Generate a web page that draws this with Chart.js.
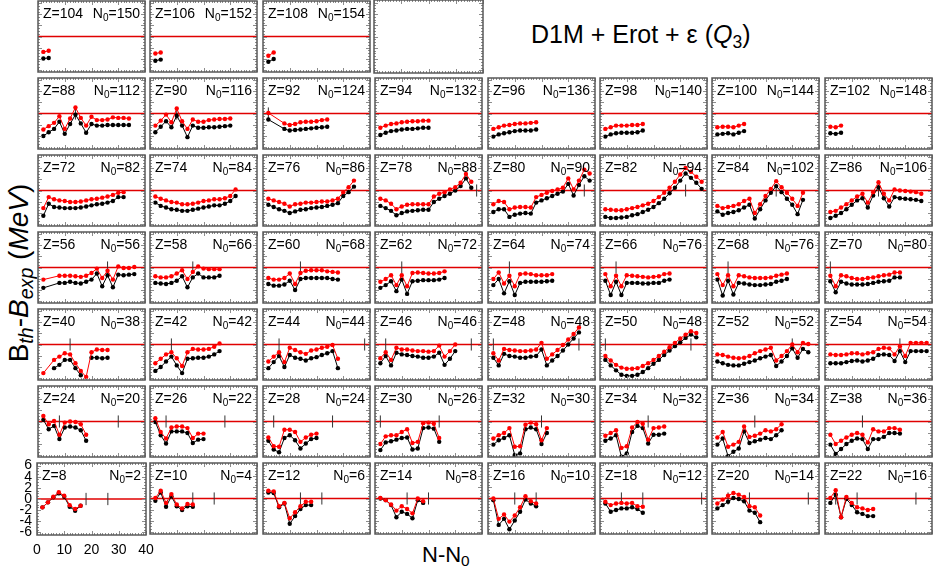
<!DOCTYPE html>
<html><head><meta charset="utf-8">
<script src="https://cdn.jsdelivr.net/npm/chart.js@4.4.1/dist/chart.umd.min.js"></script>
<style>
html,body{margin:0;padding:0;background:#fff;}
body{width:937px;height:572px;overflow:hidden;position:relative;font-family:"Liberation Sans",Arial,Helvetica,sans-serif;}
canvas{position:absolute;}
.t{position:absolute;color:#000;white-space:nowrap;line-height:1;}
.t sub{font-size:0.7em;vertical-align:-0.28em;line-height:0;}
</style></head><body>
<div class="t" style="left:531px;top:22px;font-size:25px;">D1M + Erot + ε (<i>Q</i><sub>3</sub>)</div>
<div class="t" style="left:422px;top:544px;font-size:22px;">N-N<sub>0</sub></div>
<div class="t" id="ytitle" style="left:19px;top:273px;font-size:28px;transform:translate(-50%,-50%) rotate(-90deg);">B<sub><i>th</i></sub>-<i>B</i><sub><i>exp</i></sub> (<i>MeV</i>)</div>
<script>
// ---------------- data ----------------
const MAGIC = [20, 28, 50, 82, 126];
const GRID = [
  [104, 106, 108, null],
  [88, 90, 92, 94, 96, 98, 100, 102],
  [72, 74, 76, 78, 80, 82, 84, 86],
  [56, 58, 60, 62, 64, 66, 68, 70],
  [40, 42, 44, 46, 48, 50, 52, 54],
  [24, 26, 28, 30, 32, 34, 36, 38],
  [8, 10, 12, 14, 16, 18, 20, 22]
];
const Z_LIST  = [8,10,12,14,16,18,20,22,24,26,28,30,32,34,36,38,40,42,44,46,48,50,52,54,56,58,60,62,64,66,68,70,72,74,76,78,80,82,84,86,88,90,92,94,96,98,100,102,104,106,108];
const N0_LIST = [2,4,6,8,10,12,14,16,20,22,24,26,30,32,34,36,38,42,44,46,48,48,52,54,56,66,68,72,74,76,76,80,82,84,86,88,90,94,102,106,112,116,124,132,136,140,144,148,150,152,154];
const X_TICKS = [0, 10, 20, 30, 40];
const Y_TICKS = [-6, -4, -2, 0, 2, 4, 6];

// x = N-N0, R = red series, B = black series
const X104=[2,4], R104=[-2.8,-2.6], B104=[-4.0,-3.9];
const X106=[2,4], R106=[-3.1,-2.9], B106=[-4.4,-4.2];
const X108=[2,4], R108=[-3.5,-2.9], B108=[-4.6,-4.1];

const X88=[2,4,6,8,10,12,14,16,18,20,22,24,26,28,30,32,34];
const R88=[-2.9,-2.3,-1.7,-0.5,-2.8,-0.9,1.1,-0.8,-2.2,-0.6,-1.2,-1.2,-1.1,-0.7,-0.8,-0.8,-0.9];
const B88=[-4.1,-3.4,-2.8,-1.5,-3.7,-1.9,-0.2,-1.8,-3.5,-1.9,-2.2,-2.2,-2.1,-2.1,-2.1,-2.1,-2.1];
const X90=[2,4,6,8,10,12,14,16,18,20,22,24,26,28,30];
const R90=[-2.2,-1.3,-0.2,-1.6,0.9,-1.4,-2.8,-1.1,-1.5,-1.5,-1.2,-1.1,-1.0,-1.0,-0.9];
const B90=[-3.4,-2.4,-1.4,-2.5,-0.4,-2.2,-4.3,-2.2,-2.6,-2.6,-2.5,-2.5,-2.4,-2.3,-2.2];
const X92=[2,8,10,12,14,16,18,20,22,24];
const R92=[0.1,-1.8,-2.1,-1.9,-1.6,-1.5,-1.5,-1.4,-1.2,-1.1];
const B92=[-1.1,-2.8,-3.1,-3.0,-2.9,-2.8,-2.7,-2.6,-2.5,-2.4];
const X94=[2,4,6,8,10,12,14,16,18,20];
const R94=[-2.6,-2.2,-1.9,-1.8,-1.6,-1.5,-1.4,-1.4,-1.3,-1.3];
const B94=[-3.9,-3.5,-3.2,-3.1,-2.9,-2.8,-2.8,-2.7,-2.6,-2.6];
const X96=[2,4,6,8,10,12,14,16,18];
const R96=[-2.8,-2.5,-2.2,-2.1,-1.9,-1.8,-1.8,-1.7,-1.6];
const B96=[-4.2,-3.8,-3.6,-3.4,-3.2,-3.1,-3.1,-3.1,-2.9];
const X98=[2,4,6,8,10,12,14,16];
const R98=[-2.8,-2.5,-2.2,-2.2,-2.2,-2.1,-2.1,-1.9];
const B98=[-4.2,-3.8,-3.6,-3.5,-3.5,-3.5,-3.4,-3.1];
const X100=[2,4,6,8,10,12];
const R100=[-2.5,-2.4,-2.4,-2.5,-2.2,-1.9];
const B100=[-3.8,-3.7,-3.6,-3.8,-3.5,-3.2];
const X102=[2,4,6], R102=[-2.4,-2.5,-2.2], B102=[-3.6,-3.7,-3.5];

const X72=[2,4,6,8,10,12,14,16,18,20,22,24,26,28,30,32];
const R72=[-3.2,-1.2,-1.6,-1.8,-1.9,-2.1,-2.1,-2.0,-1.8,-1.6,-1.5,-1.3,-1.1,-0.8,-0.4,-0.3];
const B72=[-4.6,-2.4,-3.0,-3.1,-3.2,-3.2,-3.2,-3.1,-2.9,-2.7,-2.5,-2.4,-2.2,-1.9,-1.2,-1.2];
const X74=[2,4,6,8,10,12,14,16,18,20,22,24,26,28,30,32];
const R74=[-1.1,-1.5,-1.8,-2.1,-2.2,-2.5,-2.5,-2.4,-2.2,-1.9,-1.8,-1.6,-1.6,-1.4,-1.0,0.2];
const B74=[-2.2,-2.8,-3.1,-3.4,-3.5,-3.7,-3.7,-3.5,-3.3,-3.1,-2.9,-2.7,-2.7,-2.4,-1.9,-1.0];
const X76=[2,4,6,8,10,12,14,16,18,20,22,24,26,28,30,32,34];
const R76=[-1.5,-1.8,-2.1,-2.4,-2.9,-2.5,-2.4,-2.2,-2.2,-2.1,-2.0,-2.0,-1.8,-1.5,-0.3,0.6,1.8];
const B76=[-2.6,-3.0,-3.4,-3.7,-4.1,-3.8,-3.5,-3.4,-3.2,-3.1,-3.0,-2.8,-2.6,-2.3,-1.0,-0.3,0.7];
const X78=[2,4,6,8,10,12,14,16,18,20,22,24,26,28,30,32,34,36];
const R78=[-1.5,-1.8,-2.4,-3.4,-2.9,-2.6,-2.5,-2.5,-2.5,-2.5,-1.1,-0.6,-0.3,0.2,0.6,1.4,3.0,1.6];
const B78=[-2.8,-3.2,-3.7,-4.5,-4.1,-3.8,-3.7,-3.6,-3.5,-3.5,-2.1,-1.5,-1.0,-0.6,0.0,0.8,2.2,0.5];
const X80=[2,4,6,8,10,12,14,16,18,20,22,24,26,28,30,32,34,36,38];
const R80=[-2.5,-1.9,-2.1,-3.4,-3.1,-3.0,-3.0,-3.1,-1.2,-0.8,-0.4,-0.1,0.2,0.5,2.2,0.2,1.8,3.8,3.1];
const B80=[-3.9,-3.4,-3.4,-4.8,-4.4,-4.2,-4.1,-4.2,-2.2,-1.8,-1.4,-1.0,-0.6,-0.2,1.2,-0.9,1.0,2.6,1.8];
const X82=[2,4,6,8,10,12,14,16,18,20,22,24,26,28,30,32,34,36,38];
const R82=[-3.4,-3.5,-3.6,-3.6,-3.4,-3.2,-3.0,-2.7,-2.4,-1.9,-1.2,-0.4,0.5,1.6,2.9,4.1,3.4,2.5,1.6];
const B82=[-4.8,-5.0,-5.0,-4.9,-4.8,-4.5,-4.3,-3.9,-3.5,-3.0,-2.3,-1.5,-0.5,0.5,1.8,3.1,2.3,1.4,0.3];
const X84=[2,4,6,8,10,12,14,16,18,20,22,24,26,28,30,32,34];
const R84=[-2.8,-3.2,-3.0,-2.8,-2.5,-1.9,-1.5,-4.1,-2.5,-1.0,0.3,1.7,0.6,-0.4,-1.5,-2.8,-0.4];
const B84=[-3.8,-4.4,-4.1,-3.9,-3.6,-3.1,-2.6,-5.1,-3.4,-1.8,-0.4,0.8,-0.3,-1.5,-2.6,-4.3,-1.7];
const X86=[2,4,6,8,10,12,14,16,18,20,22,24,26,28,30,32,34,36];
const R86=[-3.9,-3.7,-3.1,-2.5,-1.8,-1.1,-0.6,-2.2,-0.3,1.5,-0.6,-1.8,0.2,0.0,-0.1,-0.2,-0.3,-0.6];
const B86=[-5.0,-4.6,-4.1,-3.4,-2.6,-1.8,-1.4,-3.1,-0.9,0.6,-1.4,-2.9,-1.2,-1.4,-1.5,-1.6,-1.7,-1.9];

const X56=[2,8,10,12,14,16,18,20,22,24,26,28,30,32,34,36];
const R56=[-2.2,-1.5,-1.5,-1.5,-1.6,-1.7,-1.5,-1.0,-0.2,-1.9,-0.6,-2.2,0.2,-0.1,-0.1,0.1];
const B56=[-3.7,-2.8,-2.8,-2.6,-2.8,-2.9,-2.6,-2.2,-1.1,-3.4,-1.4,-3.6,-1.3,-1.4,-1.3,-1.2];
const X58=[2,4,6,8,10,12,14,16,18,20,22,24,26];
const R58=[-1.6,-1.8,-1.8,-1.6,-1.1,-0.5,-2.1,-0.8,0.2,-0.2,-0.3,-0.3,-0.3];
const B58=[-2.8,-2.9,-3.0,-2.8,-2.4,-1.6,-3.6,-1.8,-1.1,-1.8,-1.8,-1.8,-1.5];
const X60=[2,4,6,8,10,12,14,16,18,20,22,24,26,28];
const R60=[-1.9,-2.2,-2.2,-1.9,-1.1,-3.0,-1.0,-0.6,-0.5,-0.5,-0.5,-0.7,-0.8,-0.9];
const B60=[-3.0,-3.3,-3.3,-3.1,-2.4,-4.1,-2.1,-1.9,-1.9,-1.9,-1.9,-1.9,-2.1,-2.2];
const X62=[2,4,6,8,10,12,14,16,18,20,22,24,26];
const R62=[-2.6,-2.1,-1.4,-3.2,-1.4,-3.4,-1.0,-0.9,-1.0,-1.1,-1.1,-1.0,-0.7];
const B62=[-3.7,-3.2,-2.5,-4.3,-2.2,-4.8,-2.5,-2.4,-2.3,-2.3,-2.3,-2.2,-1.9];
const X64=[2,4,6,8,10,12,14,16,18,20,22,24];
const R64=[-2.1,-0.9,-2.9,-1.5,-3.4,-1.2,-1.1,-1.2,-1.4,-1.4,-1.4,-1.2];
const B64=[-3.2,-2.1,-4.7,-2.5,-5.0,-2.8,-2.6,-2.6,-2.6,-2.6,-2.5,-2.4];
const X66=[2,4,6,8,10,12,14,16,18,20,22,24,26];
const R66=[-1.2,-3.4,-1.5,-3.4,-1.4,-1.5,-1.6,-1.7,-1.8,-1.7,-1.6,-1.2,-1.1];
const B66=[-2.4,-5.0,-2.6,-5.0,-2.8,-2.8,-2.8,-2.9,-2.9,-2.8,-2.8,-2.4,-2.2];
const X68=[2,4,6,8,10,12,14,16,18,20,22,24,26,28];
const R68=[-1.2,-3.2,-1.4,-3.4,-1.4,-1.6,-1.8,-1.9,-1.9,-1.9,-1.8,-1.5,-1.3,-1.1];
const B68=[-2.2,-5.1,-2.4,-4.9,-2.8,-2.9,-3.1,-3.2,-3.2,-3.1,-3.0,-2.6,-2.4,-2.1];
const X70=[2,4,6,8,10,12,14,16,18,20,22,24,26,28];
const R70=[-1.5,-3.4,-1.4,-1.6,-1.9,-2.1,-2.1,-1.9,-1.8,-1.6,-1.4,-1.3,-0.9,-0.9];
const B70=[-2.5,-4.5,-2.6,-2.9,-3.1,-3.1,-3.1,-3.0,-2.8,-2.6,-2.5,-2.4,-1.8,-1.8];

const X40=[2,6,8,10,12,14,16,18,20,22,24,26];
const R40=[-5.2,-2.8,-2.2,-1.6,-1.8,-3.4,-4.8,-5.9,-1.4,-0.9,-1.0,-1.0];
const XB40=[6,8,10,12,14,16,18,20,22,24,26];
const B40=[-4.3,-3.7,-2.8,-2.8,-4.3,-5.6,null,-2.4,-2.4,-2.5,-2.4];
const X42=[2,4,6,8,10,12,14,16,18,20,22,24,26];
const R42=[-3.4,-2.6,-1.8,-1.4,-2.5,-3.9,-1.4,-0.8,-0.9,-0.9,-0.8,-0.4,0.2];
const B42=[-4.8,-4.1,-3.1,-2.2,-3.8,-5.2,-2.6,-2.5,-2.4,-2.4,-2.2,-1.8,-1.2];
const X44=[2,4,6,8,10,12,14,16,18,20,22,24,26,28];
const R44=[-3.1,-2.2,-1.4,-3.2,-0.6,-1.0,-1.4,-1.7,-1.1,-0.9,-0.6,-0.4,-0.1,-2.6];
const B44=[-4.3,-3.2,-2.1,-4.1,-1.9,-2.4,-2.6,-2.9,-2.5,-2.3,-1.9,-1.6,-1.2,-4.3];
const X46=[2,4,6,8,10,12,14,16,18,20,22,24,26,28,30];
const R46=[-2.5,-1.4,-2.8,-0.6,-0.9,-0.9,-1.1,-1.2,-1.2,-1.3,-1.2,-0.2,-2.2,-1.2,0.0];
const B46=[-3.4,-2.1,-3.8,-1.5,-1.8,-1.9,-2.1,-2.2,-2.4,-2.4,-2.2,-1.5,-3.7,-2.6,-1.2];
const X48=[2,4,6,8,10,12,14,16,18,20,22,24,26,28,30,32,34];
const R48=[-1.6,-2.9,-0.8,-1.0,-1.1,-1.2,-1.2,-1.1,-0.9,0.3,-2.6,-1.8,-1.0,-0.1,0.9,1.9,3.1];
const B48=[-2.4,-3.8,-1.7,-2.1,-2.2,-2.4,-2.4,-2.2,-2.1,-0.9,-3.8,-2.9,-2.1,-1.1,0.0,1.1,2.2];
const X50=[2,4,6,8,10,12,14,16,18,20,22,24,26,28,30,32,34,36];
const R50=[-2.1,-2.9,-3.7,-4.2,-4.4,-4.4,-4.3,-3.9,-3.4,-2.8,-2.1,-1.3,-0.5,0.3,1.1,1.8,2.4,2.1];
const B50=[-2.8,-3.8,-4.7,-5.5,-5.7,-5.7,-5.5,-5.0,-4.3,-3.5,-2.8,-1.9,-1.1,-0.3,0.4,1.2,1.8,1.3];
const X52=[2,4,6,8,10,12,14,16,18,20,22,24,26,28,30,32,34,36];
const R52=[-1.8,-1.9,-2.2,-2.4,-2.5,-2.4,-2.1,-1.6,-1.2,-0.9,-0.6,-2.9,-2.1,-1.2,0.0,-1.4,0.3,0.1];
const B52=[-3.1,-3.4,-3.7,-3.8,-3.8,-3.5,-3.2,-2.9,-2.5,-2.2,-1.9,-3.9,-3.1,-2.1,-0.7,-2.4,-0.8,-1.4];
const X54=[2,4,6,8,10,12,14,16,18,20,22,24,26,28,30,32,34,36,38];
const R54=[-1.8,-1.9,-1.9,-1.8,-1.6,-1.6,-1.8,-1.6,-1.4,-0.8,-0.6,-0.7,-1.8,-0.3,-2.1,0.3,0.3,0.3,0.3];
const B54=[-3.4,-3.4,-3.4,-3.2,-3.0,-2.9,-3.1,-2.9,-2.6,-1.9,-1.8,-1.9,-3.0,-1.2,-3.2,-1.2,-1.2,-1.2,-1.2];

const X24=[2,4,6,8,10,12,14,16,18];
const R24=[1.0,-0.5,0.1,-2.4,-0.2,0.0,-0.1,-0.5,-2.4];
const B24=[0.3,-1.4,-0.8,-3.2,-1.1,-0.9,-1.1,-1.6,-3.5];
const X26=[2,4,6,8,10,12,14,16,18,20];
const R26=[0.6,-1.9,-3.1,-1.1,-0.9,-0.9,-1.2,-3.0,-2.2,-2.2];
const B26=[-0.1,-2.5,-4.0,-1.8,-1.8,-1.8,-2.1,-3.9,-3.3,-3.2];
const X28=[2,4,6,8,10,12,14,16,18,20];
const R28=[-2.9,-4.5,-4.6,-1.5,-1.5,-1.9,-3.7,-2.9,-2.4,-2.2];
const B28=[-3.5,-5.1,-5.6,-3.0,-2.5,-3.4,-4.9,-4.0,-3.2,-3.0];
const X30=[2,4,6,8,10,12,14,16,18,20,22,24];
const R30=[-4.1,-2.7,-2.5,-2.5,-1.9,-1.4,-3.9,-3.7,-0.3,-0.2,-0.4,-3.0];
const B30=[-5.2,-3.8,-3.6,-3.3,-3.0,-2.9,-5.1,-4.9,-1.2,-1.1,-1.3,-3.7];
const X32=[2,4,6,8,10,12,14,16,18,20,22];
const R32=[-3.1,-2.5,-2.1,-1.2,-4.6,-4.5,-0.6,-0.2,-0.5,-3.4,-1.2];
const B32=[-4.2,-3.4,-3.0,-2.5,-6.1,-5.8,-1.4,-1.1,-1.4,-4.1,-2.1];
const X34=[2,4,6,8,10,12,14,16,18,20,22,24];
const R34=[-2.6,-2.1,-1.6,-4.8,-4.5,-1.1,-0.1,-0.4,-3.3,-1.2,-1.1,-0.9];
const B34=[-3.5,-3.1,-2.5,-6.4,-5.8,-1.9,-0.8,-1.2,-4.0,-2.4,-2.4,-2.2];
const X36=[2,4,6,8,10,12,14,16,18,20,22,24,26];
const R36=[-2.9,-1.9,-4.6,-4.2,-3.7,-0.9,-2.8,-2.6,-2.2,-1.6,-1.8,-1.4,-0.5];
const B36=[-4.2,-3.1,-6.3,-5.5,-4.9,-1.8,-3.9,-3.6,-3.3,-3.0,-3.2,-2.5,-1.6];
const X38=[2,4,6,8,10,12,14,16,18,20,22,24,26,28];
const R38=[-2.4,-4.1,-3.5,-2.9,-2.4,-2.1,-2.4,-3.8,-1.4,-1.8,-1.8,-1.2,-1.2,-1.5];
const B38=[-4.2,-5.9,-5.0,-4.1,-3.5,-3.1,-3.2,-5.0,-3.2,-3.2,-2.8,-2.1,-2.1,-2.2];

const X8=[2,4,6,8,10,12,14,16];
const R8=[-1.5,-0.6,0.4,1.2,0.6,-1.1,-1.8,-1.2];
const B8=[-1.5,-0.6,0.3,1.0,0.4,-1.4,-2.1,-1.2];
const X10=[2,4,6,8,10,12,14,16];
const R10=[0.1,1.4,-0.8,0.8,-1.1,-1.8,-1.0,-1.1];
const B10=[-0.4,1.1,-1.5,0.4,-1.4,-2.1,-1.4,-1.5];
const X12=[2,4,6,8,10,12,14,16,18];
const R12=[1.4,1.3,-1.4,-0.8,-3.6,-2.5,-1.4,-0.6,-0.6];
const B12=[1.1,1.0,-1.6,-0.9,-4.6,-3.2,-1.9,-1.2,-1.2];
const X14=[2,4,6,8,10,12,14,16,18];
const R14=[0.1,-0.3,-1.1,-2.2,-1.4,-1.9,-2.7,0.0,-0.5];
const B14=[0.0,-0.3,-1.2,-3.4,-2.4,-2.8,-3.6,-0.3,-0.8];
const X16=[2,4,6,8,10,12,14,16,18];
const R16=[0.0,-3.7,-2.9,-4.2,-3.1,-1.6,0.4,-0.5,-0.9];
const B16=[-0.3,-4.8,-3.7,-5.6,-4.0,-2.4,-0.2,-0.9,-1.4];
const X18=[2,4,6,8,10,12,14,16];
const R18=[-0.6,-1.2,-0.9,-0.8,-0.9,-0.8,-1.4,-1.5];
const B18=[-0.9,-2.4,-2.1,-1.8,-1.8,-1.6,-1.9,-2.6];
const X20=[2,4,6,8,10,12,14,16,18];
const R20=[-0.9,-0.2,0.5,1.0,0.7,0.3,-1.4,-1.6,-3.1];
const B20=[-1.8,-1.2,-0.6,0.1,-0.1,-0.5,-2.2,-2.6,-4.3];
const X22=[2,4,6,8,10,12,14,16,18];
const R22=[0.1,1.5,-3.4,0.3,-0.8,-1.6,-1.8,-2.1,-1.9];
const B22=[-0.8,0.7,-3.4,-0.1,-1.2,-2.5,-2.8,-3.2,-3.2];

// table: Z -> [x red, red, x black, black]
const SERIES = {
  8:[X8,R8,X8,B8],10:[X10,R10,X10,B10],12:[X12,R12,X12,B12],14:[X14,R14,X14,B14],
  16:[X16,R16,X16,B16],18:[X18,R18,X18,B18],20:[X20,R20,X20,B20],22:[X22,R22,X22,B22],
  24:[X24,R24,X24,B24],26:[X26,R26,X26,B26],28:[X28,R28,X28,B28],30:[X30,R30,X30,B30],
  32:[X32,R32,X32,B32],34:[X34,R34,X34,B34],36:[X36,R36,X36,B36],38:[X38,R38,X38,B38],
  40:[X40,R40,XB40,B40],42:[X42,R42,X42,B42],44:[X44,R44,X44,B44],46:[X46,R46,X46,B46],
  48:[X48,R48,X48,B48],50:[X50,R50,X50,B50],52:[X52,R52,X52,B52],54:[X54,R54,X54,B54],
  56:[X56,R56,X56,B56],58:[X58,R58,X58,B58],60:[X60,R60,X60,B60],62:[X62,R62,X62,B62],
  64:[X64,R64,X64,B64],66:[X66,R66,X66,B66],68:[X68,R68,X68,B68],70:[X70,R70,X70,B70],
  72:[X72,R72,X72,B72],74:[X74,R74,X74,B74],76:[X76,R76,X76,B76],78:[X78,R78,X78,B78],
  80:[X80,R80,X80,B80],82:[X82,R82,X82,B82],84:[X84,R84,X84,B84],86:[X86,R86,X86,B86],
  88:[X88,R88,X88,B88],90:[X90,R90,X90,B90],92:[X92,R92,X92,B92],94:[X94,R94,X94,B94],
  96:[X96,R96,X96,B96],98:[X98,R98,X98,B98],100:[X100,R100,X100,B100],102:[X102,R102,X102,B102],
  104:[X104,R104,X104,B104],106:[X106,R106,X106,B106],108:[X108,R108,X108,B108]
};

// ---------------- layout / style ----------------
const COLS = [37,149,262,374,487,599,711,824];
const ROWS = [0,77,154,231,308,385,462];
const PW = 109, PH = 73, PAD = 3;
const YMIN = -6.45, YMAX = 6.45;
const FONT = '"Liberation Sans", Arial, Helvetica, sans-serif';
const LBL = 14, SUB = 10;

const framePlugin = {
  id: 'frame',
  afterDraw(chart, args, o) {
    const ctx = chart.ctx, a = chart.chartArea;
    const xs = chart.scales.x, ys = chart.scales.y;
    ctx.save();
    ctx.beginPath();
    ctx.strokeStyle = '#8c8c8c'; ctx.lineWidth = 1;
    for (let v = 0; v <= 40; v++) {
      const px = Math.round(xs.getPixelForValue(v)) + 0.5, L = v % 10 === 0 ? 4 : 2;
      ctx.moveTo(px, a.top); ctx.lineTo(px, a.top + L);
      ctx.moveTo(px, a.bottom); ctx.lineTo(px, a.bottom - L);
    }
    for (let k = -12; k <= 12; k++) {
      const py = Math.round(ys.getPixelForValue(k / 2)) + 0.5, L = k % 4 === 0 ? 4 : 2;
      ctx.moveTo(a.left, py); ctx.lineTo(a.left + L, py);
      ctx.moveTo(a.right, py); ctx.lineTo(a.right - L, py);
    }
    ctx.stroke();
    ctx.strokeStyle = '#585858'; ctx.lineWidth = 1.5;
    ctx.strokeRect(a.left, a.top, a.right - a.left, a.bottom - a.top);
    if (o && o.z != null) {
      ctx.fillStyle = '#000'; ctx.textAlign = 'left'; ctx.textBaseline = 'alphabetic';
      const base = a.top + 17;
      ctx.font = LBL + 'px ' + FONT;
      ctx.fillText('Z=' + o.z, a.left + 5, base);
      const rest = '=' + o.n0;
      const wN = ctx.measureText('N').width, wR = ctx.measureText(rest).width;
      ctx.font = SUB + 'px ' + FONT;
      const w0 = ctx.measureText('0').width;
      const sx = a.right - 5 - (wN + w0 + wR);
      ctx.font = LBL + 'px ' + FONT; ctx.fillText('N', sx, base);
      ctx.font = SUB + 'px ' + FONT; ctx.fillText('0', sx + wN, base + 3);
      ctx.font = LBL + 'px ' + FONT; ctx.fillText(rest, sx + wN + w0, base);
    }
    ctx.restore();
  }
};

function pts(xa, ya) { return xa.map((x, i) => ({ x: x, y: ya[i] })); }

function makePanel(z, row, col) {
  const cv = document.createElement('canvas');
  document.body.appendChild(cv);
  const labelled = (row === 6 && col === 0);
  let left, top, w, h, padding;
  if (labelled) {
    left = 0; top = ROWS[row] - PAD; w = COLS[col] + PW + 12; h = PAD + PH + 24;
    padding = { top: PAD, left: 0, right: 12, bottom: 0 };
  } else {
    left = COLS[col] - PAD; top = ROWS[row] - PAD; w = PW + 2 * PAD; h = PH + 2 * PAD;
    padding = PAD;
  }
  cv.width = w; cv.height = h;
  cv.style.left = left + 'px'; cv.style.top = top + 'px';
  cv.style.width = w + 'px'; cv.style.height = h + 'px';

  const datasets = [];
  let frameOpts = { z: null, n0: null };
  if (z != null) {
    const n0 = N0_LIST[Z_LIST.indexOf(z)];
    frameOpts = { z: z, n0: n0 };
    const s = SERIES[z];
    const marks = [];
    MAGIC.forEach(m => {
      const d = m - n0;
      if (d >= 0 && d <= 40) { marks.push({ x: d, y: -1.1 }, { x: d, y: 1.1 }, { x: d, y: null }); }
    });
    datasets.push({ data: pts(s[0], s[1]), borderColor: '#ff0000', backgroundColor: '#ff0000',
      pointBackgroundColor: '#ff0000', pointBorderColor: '#ff0000', borderWidth: 1, pointRadius: 2.2, pointBorderWidth: 0, spanGaps: false });
    datasets.push({ data: pts(s[2], s[3]), borderColor: '#000', backgroundColor: '#000',
      pointBackgroundColor: '#000', pointBorderColor: '#000', borderWidth: 1, pointRadius: 2.2, pointBorderWidth: 0, spanGaps: false });
    datasets.push({ data: marks, borderColor: '#333', borderWidth: 1, pointRadius: 0, spanGaps: false });
    datasets.push({ data: [{ x: 0, y: 0 }, { x: 40, y: 0 }], borderColor: '#e00000', borderWidth: 1.5, pointRadius: 0 });
  }

  const tickFont = { size: 14, family: FONT };
  const xScale = labelled ? {
    type: 'linear', min: 0, max: 40, display: true,
    grid: { display: false, drawTicks: false }, border: { display: false },
    ticks: { font: tickFont, color: '#000', padding: 7, maxRotation: 0, autoSkip: false },
    afterBuildTicks: s => { s.ticks = X_TICKS.map(v => ({ value: v })); },
    afterFit: s => { s.height = 24; s.paddingLeft = 0; s.paddingRight = 0; }
  } : { type: 'linear', min: 0, max: 40, display: false };
  const yScale = labelled ? {
    type: 'linear', min: YMIN, max: YMAX, display: true,
    grid: { display: false, drawTicks: false }, border: { display: false },
    ticks: { font: tickFont, color: '#000', padding: 5, autoSkip: false },
    afterBuildTicks: s => { s.ticks = Y_TICKS.map(v => ({ value: v })); },
    afterFit: s => { s.width = COLS[0]; s.paddingTop = 0; s.paddingBottom = 0; }
  } : { type: 'linear', min: YMIN, max: YMAX, display: false };

  new Chart(cv, {
    type: 'line',
    data: { datasets: datasets },
    options: {
      responsive: false, animation: false, events: [],
      layout: { padding: padding },
      plugins: { legend: { display: false }, tooltip: { enabled: false }, title: { display: false }, frame: frameOpts },
      scales: { x: xScale, y: yScale }
    },
    plugins: [framePlugin]
  });
}

GRID.forEach((rowZ, r) => rowZ.forEach((z, c) => makePanel(z, r, c)));
</script>
</body></html>
